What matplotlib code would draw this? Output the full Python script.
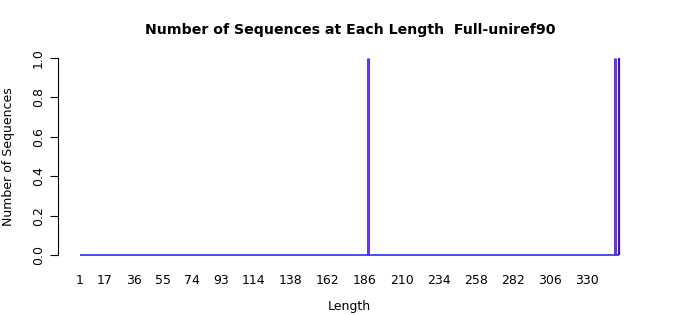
import numpy as np
import matplotlib
matplotlib.use("Agg")
import matplotlib.pyplot as plt

# ---- data ----
length_min, length_max = 1, 351
blue_lengths = [188, 348]
blue_counts = [1, 1]
purple_lengths = [188, 348]
purple_counts = [1, 1]
indigo_lengths = [351]
indigo_counts = [1]
xtick_values = [1, 17, 36, 55, 74, 93, 114, 138, 162, 186, 210, 234, 258, 282, 306, 330]
ytick_values = [0.0, 0.2, 0.4, 0.6, 0.8, 1.0]

title = "Number of Sequences at Each Length  Full-uniref90"

fig = plt.figure(figsize=(7.0, 3.15), dpi=100)
ax = fig.add_axes([0.0829, 0.165, 0.8329, 0.676])

blue = "#2f2fe8"
purple = "#9a20e8"
indigo = "#4a0cb8"

ax.hlines(0, length_min, length_max, color=blue, lw=1.2)
ax.vlines(blue_lengths, 0, blue_counts, color=blue, lw=2.0)
ax.vlines(purple_lengths, 0, purple_counts, color=purple, lw=0.7)
ax.vlines(indigo_lengths, 0, indigo_counts, color=indigo, lw=1.6)

pad_x = 0.04 * (length_max - length_min)
ax.set_xlim(length_min - pad_x, length_max + pad_x)
ax.set_ylim(-0.04, 1.04)

for s in ["top", "right", "bottom"]:
    ax.spines[s].set_visible(False)
ax.spines["left"].set_bounds(0, 1)
ax.spines["left"].set_linewidth(0.8)

ax.set_yticks(ytick_values)
ax.set_yticklabels([f"{v:.1f}" for v in ytick_values], rotation=90, va="center", fontsize=9)
ax.tick_params(axis="y", length=5.5, width=0.8, pad=4)

ax.set_xticks(xtick_values)
ax.set_xticklabels([str(v) for v in xtick_values], fontsize=9)
ax.tick_params(axis="x", length=0, pad=8)

ax.set_xlabel("Length", fontsize=9, labelpad=9)
ax.set_ylabel("Number of Sequences", fontsize=9, labelpad=12)
fig.text(0.5, 0.905, title, ha="center", va="center", fontsize=10.2, fontweight="bold")

fig.savefig("out.png", dpi=100)
